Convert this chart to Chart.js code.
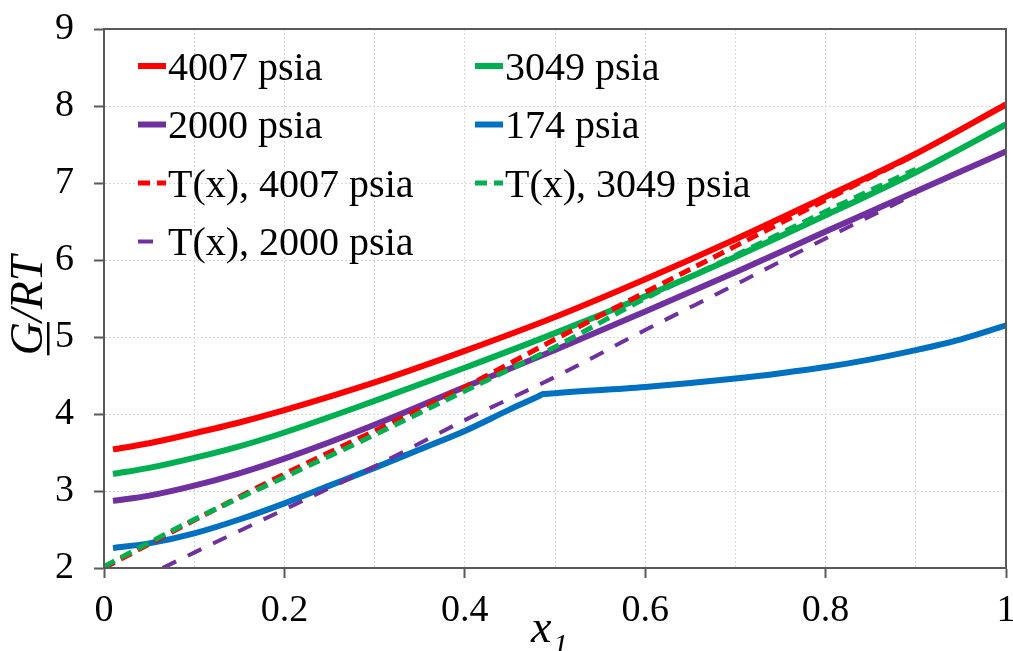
<!DOCTYPE html>
<html lang="en">
<head>
<meta charset="UTF-8">
<title>G/RT vs x1</title>
<script src="https://cdn.jsdelivr.net/npm/chart.js"></script>
<style>
  html, body { margin: 0; padding: 0; background: #fff; }
</style>
</head>
<body>
<canvas id="gibbsChart" width="1013" height="651"></canvas>
<script>
// mole fraction x1 and G/RT for each pressure
const xSolid = [0.01, 0.05, 0.1, 0.15, 0.2, 0.3, 0.4, 0.5, 0.6, 0.7, 0.8, 0.9, 1.0];
const g4007 = [3.54, 3.62, 3.75, 3.89, 4.05, 4.41, 4.82, 5.26, 5.75, 6.27, 6.82, 7.38, 8.02];
const g3049 = [3.22, 3.30, 3.43, 3.58, 3.76, 4.17, 4.60, 5.05, 5.53, 6.04, 6.58, 7.14, 7.76];
const g2000 = [2.87, 2.94, 3.07, 3.23, 3.42, 3.86, 4.35, 4.83, 5.33, 5.84, 6.37, 6.89, 7.41];

// 174 psia has a sharp break near x1 = 0.49 (points packed round it keep the corner)
const x174 = [0.01, 0.05, 0.1, 0.15, 0.2, 0.25, 0.3, 0.35, 0.4, 0.45, 0.48, 0.487, 0.495, 0.5,
              0.6, 0.7, 0.75, 0.8, 0.85, 0.9, 0.95, 1.0];
const g174 = [2.26, 2.32, 2.45, 2.63, 2.84, 3.07, 3.30, 3.54, 3.78, 4.06, 4.22, 4.26, 4.265, 4.27,
              4.35, 4.46, 4.53, 4.61, 4.71, 4.83, 4.97, 5.15];

// T(x) curves
const xT = [0.0, 0.1, 0.2, 0.3, 0.4, 0.5, 0.6, 0.7, 0.8, 0.9];
const t4007 = [2.00, 2.62, 3.22, 3.78, 4.35, 4.97, 5.58, 6.18, 6.78, 7.37];
const t3049 = [2.02, 2.63, 3.18, 3.73, 4.30, 4.87, 5.50, 6.06, 6.63, 7.18];
const xT2000 = [0.065, 0.1, 0.2, 0.3, 0.4, 0.5, 0.6, 0.7, 0.8, 0.9];
const t2000 = [2.00, 2.20, 2.76, 3.32, 3.92, 4.48, 5.09, 5.68, 6.28, 6.86];

const xTicks = [0, 0.2, 0.4, 0.6, 0.8, 1];
const yTicks = [2, 3, 4, 5, 6, 7, 8, 9];

const serif = "'Liberation Serif', 'Times New Roman', serif";
const axisGray = '#595959';

const pts = (xs, ys) => xs.map((x, i) => ({ x: x, y: ys[i] }));

// legend drawn inside the plot, two columns
const legendBox = {
    id: 'legendBox',
    afterDraw(chart) {
        const { ctx, chartArea } = chart;
        const cols = [chartArea.left + 34, chartArea.left + 371];
        ctx.save();
        ctx.font = '40px ' + serif;
        ctx.fillStyle = '#000';
        ctx.textBaseline = 'middle';
        chart.data.datasets.forEach((ds, i) => {
            const x = cols[i % 2];
            const y = chartArea.top + 40 + 58.5 * Math.floor(i / 2);
            ctx.beginPath();
            ctx.setLineDash(ds.borderDash || []);
            ctx.lineWidth = ds.borderWidth;
            ctx.strokeStyle = ds.borderColor;
            ctx.moveTo(x, y - 3);
            ctx.lineTo(x + 28, y - 3);
            ctx.stroke();
            ctx.setLineDash([]);
            ctx.fillText(ds.label, x + 30, y);
        });
        ctx.restore();
    }
};

// frame round the plot and the two axis titles
const frameAndTitles = {
    id: 'frameAndTitles',
    afterDraw(chart) {
        const { ctx, chartArea } = chart;
        ctx.save();
        ctx.strokeStyle = axisGray;
        ctx.lineWidth = 2;
        ctx.strokeRect(chartArea.left, chartArea.top,
            chartArea.right - chartArea.left, chartArea.bottom - chartArea.top);

        // y title: G/RT with G underlined
        const midY = (chartArea.top + chartArea.bottom) / 2 + 7;
        ctx.translate(42, midY);
        ctx.rotate(-Math.PI / 2);
        ctx.font = 'italic 46px ' + serif;
        ctx.fillStyle = '#000';
        ctx.textBaseline = 'alphabetic';
        ctx.textAlign = 'left';
        const full = ctx.measureText('G/RT').width;
        const gw = ctx.measureText('G').width;
        ctx.fillText('G/RT', -full / 2, 0);
        ctx.fillRect(-full / 2, 5, gw, 2.5);
        ctx.restore();

        // x title: x with subscript 1
        ctx.save();
        ctx.fillStyle = '#000';
        ctx.textBaseline = 'alphabetic';
        ctx.font = 'italic 46px ' + serif;
        const cx = (chartArea.left + chartArea.right) / 2;
        ctx.fillText('x', cx - 24, 642);
        ctx.font = 'italic 30px ' + serif;
        ctx.fillText('1', cx - 2, 654);
        ctx.restore();
    }
};

const solid = (label, data, color) => ({
    label: label, data: data, borderColor: color, borderWidth: 6, order: 2
});
const dashed = (label, data, color, dash, width, order) => ({
    label: label, data: data, borderColor: color, borderWidth: width, borderDash: dash, order: order
});

new Chart(document.getElementById('gibbsChart'), {
    type: 'line',
    data: {
        datasets: [
            solid('4007 psia', pts(xSolid, g4007), '#ff0000'),
            solid('3049 psia', pts(xSolid, g3049), '#00b050'),
            solid('2000 psia', pts(xSolid, g2000), '#7030a0'),
            solid('174 psia', pts(x174, g174), '#0070c0'),
            dashed('T(x), 4007 psia', pts(xT, t4007), '#ff0000', [12, 7], 5, 1),
            dashed('T(x), 3049 psia', pts(xT, t3049), '#00b050', [12, 7], 5, 0),
            dashed('T(x), 2000 psia', pts(xT2000, t2000), '#7030a0', [15, 13], 4, 1)
        ]
    },
    options: {
        responsive: false,
        animation: false,
        devicePixelRatio: 1,
        layout: { padding: { top: 29, right: 7, left: 0, bottom: 0 } },
        elements: {
            point: { radius: 0 },
            line: { fill: false, cubicInterpolationMode: 'monotone', borderCapStyle: 'butt' }
        },
        plugins: {
            legend: { display: false },
            tooltip: { enabled: false }
        },
        scales: {
            x: {
                type: 'linear',
                min: 0,
                max: 1,
                afterFit: s => { s.height = 83; s.paddingLeft = 0; s.paddingRight = 0; },
                afterBuildTicks: s => {
                    s.ticks = [];
                    for (let i = 0; i <= 10; i++) s.ticks.push({ value: i / 10 });
                },
                ticks: {
                    color: '#000',
                    font: { family: serif, size: 38 },
                    padding: 10,
                    maxRotation: 0,
                    autoSkip: false,
                    callback: v => {
                        const hit = xTicks.find(t => Math.abs(t - v) < 1e-6);
                        return hit === undefined ? '' : String(hit);
                    }
                },
                grid: {
                    color: '#d9d9d9',
                    lineWidth: 1,
                    tickLength: 10,
                    tickWidth: 2,
                    tickBorderDash: [],
                    tickColor: c => xTicks.some(t => Math.abs(t - c.tick.value) < 1e-6) ? axisGray : 'rgba(0,0,0,0)'
                },
                border: { display: true, color: axisGray, width: 2, dash: [2, 2] }
            },
            y: {
                min: 2,
                max: 9,
                afterFit: s => { s.width = 104; s.paddingTop = 0; s.paddingBottom = 0; },
                afterBuildTicks: s => { s.ticks = yTicks.map(v => ({ value: v })); },
                ticks: {
                    color: '#000',
                    font: { family: serif, size: 38 },
                    padding: 20
                },
                grid: {
                    color: '#d9d9d9',
                    lineWidth: 1,
                    tickLength: 10,
                    tickWidth: 2,
                    tickBorderDash: [],
                    tickColor: axisGray
                },
                border: { display: true, color: axisGray, width: 2, dash: [2, 2] }
            }
        }
    },
    plugins: [legendBox, frameAndTitles]
});
</script>
</body>
</html>
